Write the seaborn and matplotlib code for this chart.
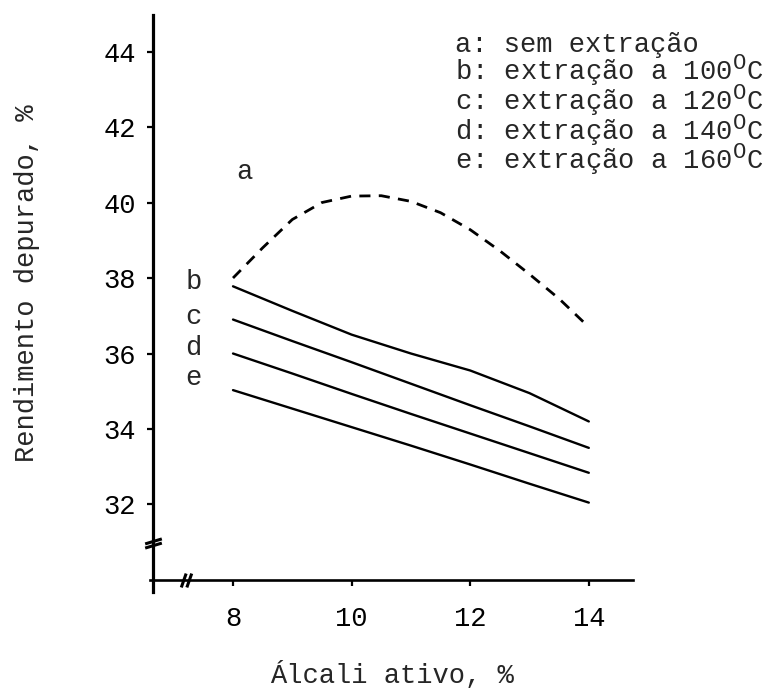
import numpy as np
import pandas as pd
import matplotlib
matplotlib.use("Agg")
import matplotlib.pyplot as plt
import matplotlib._mathtext as _mt
from matplotlib.path import Path
import seaborn as sns

# Álcali ativo (%) at which each curve was read
alcali_a = [8, 8.5, 9, 9.5, 10, 10.5, 11, 11.5, 12, 12.5, 13, 13.5, 14]
alcali = [8, 9, 10, 11, 12, 13, 14]

# Rendimento depurado (%) for each condition
rend_a = [38.0, 38.8, 39.55, 40.0, 40.17, 40.18, 40.03, 39.73, 39.28, 38.72, 38.1, 37.45, 36.7]
rend_b = [37.78, 37.13, 36.5, 36.0, 35.55, 34.95, 34.2]
rend_c = [36.9, 36.33, 35.77, 35.2, 34.63, 34.07, 33.5]
rend_d = [36.0, 35.47, 34.93, 34.4, 33.88, 33.36, 32.84]
rend_e = [35.03, 34.54, 34.05, 33.56, 33.06, 32.55, 32.05]

curve_names = ["a", "b", "c", "d", "e"]
legend_lines = [
    "a: sem extração",
    "b: extração a 100$^{\\mathrm{O}}$C",
    "c: extração a 120$^{\\mathrm{O}}$C",
    "d: extração a 140$^{\\mathrm{O}}$C",
    "e: extração a 160$^{\\mathrm{O}}$C",
]
y_ticks = [32, 34, 36, 38, 40, 42, 44]
x_ticks = [8, 10, 12, 14]

sns.set_style("white")
plt.rcParams["font.family"] = ["Liberation Mono", "DejaVu Sans"]
plt.rcParams["mathtext.fontset"] = "custom"
plt.rcParams["mathtext.rm"] = "Liberation Mono"
plt.rcParams["mathtext.it"] = "Liberation Mono"
plt.rcParams["mathtext.bf"] = "Liberation Mono"
# a larger raised "O" for the degree sign
_mt.SHRINK_FACTOR = 0.82

FS = 19.5
LINE_PX = 29.3       # baseline-to-baseline distance in the key
FIRST_BASE_PX = 52   # baseline of the first key line, from the top

fig = plt.figure(figsize=(7.75, 6.98), dpi=100)
ax = fig.add_axes([100 / 775, 98 / 698, 600 / 775, 590 / 698])
ax.set_xlim(5.757, 15.875)
ax.set_ylim(29.47, 45.10)

# curves
sns.lineplot(x=alcali_a, y=rend_a, ax=ax, color="black", lw=2.0,
             linestyle=(0, (4, 3)), estimator=None, sort=False)
for vals in [rend_b, rend_c, rend_d, rend_e]:
    sns.lineplot(x=alcali, y=vals, ax=ax, color="black", lw=1.7,
                 estimator=None, sort=False)

# curve letters
ax.text(8.2, 40.81, "a", fontsize=FS, ha="center", va="center")
label_y = [37.9, 36.97, 36.15, 35.36]
for name, yv in zip(curve_names[1:], label_y):
    ax.text(7.33, yv, name, fontsize=FS, ha="center", va="center")

# key in the upper right, one multi-line text
key = fig.text(455 / 775, 0.9, "\n".join(legend_lines), fontsize=FS,
               ha="left", va="top", multialignment="left")
r = fig.canvas.get_renderer()
prop = key.get_fontproperties()
_, lp_h, lp_d = r.get_text_width_height_descent("lp", prop, ismath=False)
_, h_a, d_a = r.get_text_width_height_descent(legend_lines[0], prop, ismath=False)
_, h_b, d_b = r.get_text_width_height_descent(legend_lines[1], prop, ismath=True)
h_a, d_a = max(h_a, lp_h), max(d_a, lp_d)
h_b, d_b = max(h_b, lp_h), max(d_b, lp_d)
mean_d = (d_a + 3 * d_b) / 4
key.set_linespacing((LINE_PX - mean_d) / max(h_b - d_b, lp_h - lp_d))
top_px = FIRST_BASE_PX - (h_a - d_a)
key.set_y((698 - top_px) / 698)

# axes
for side in ["top", "right"]:
    ax.spines[side].set_visible(False)
ax.spines["left"].set_position(("data", 6.651))
ax.spines["left"].set_bounds(29.68, 44.97)
ax.spines["left"].set_linewidth(2.3)
ax.spines["bottom"].set_position(("data", 30.0))
ax.spines["bottom"].set_bounds(6.60, 14.75)
ax.spines["bottom"].set_linewidth(1.9)
for s in ["left", "bottom"]:
    ax.spines[s].set_color("black")

ax.set_yticks(y_ticks)
ax.set_yticklabels([str(v) for v in y_ticks])
ax.set_xticks(x_ticks)
ax.set_xticklabels([str(v) for v in x_ticks])
ax.tick_params(axis="y", direction="out", length=4.5, width=1.6, pad=8,
               labelsize=FS, colors="black", left=True)
ax.tick_params(axis="x", direction="out", length=4.5, width=1.6, pad=14,
               labelsize=FS, colors="black", bottom=True)

# axis breaks
ybreak = Path([(-1, -0.05), (1, 0.55), (-1, -0.55), (1, 0.05)],
              [Path.MOVETO, Path.LINETO, Path.MOVETO, Path.LINETO])
xbreak = Path([(-0.75, -1), (-0.05, 1), (0.05, -1), (0.75, 1)],
              [Path.MOVETO, Path.LINETO, Path.MOVETO, Path.LINETO])
ax.plot([6.651], [30.98], marker=ybreak, ms=12, mec="black", mew=2.2,
        ls="none", clip_on=False)
ax.plot([7.21], [30.0], marker=xbreak, ms=10, mec="black", mew=2.2,
        ls="none", clip_on=False)

ax.set_ylabel("Rendimento depurado, %", fontsize=FS, va="center", ha="center")
ax.yaxis.set_label_coords(-0.1217, 0.537)
ax.set_xlabel("Álcali ativo, %", fontsize=FS, va="center", ha="center")
ax.xaxis.set_label_coords(0.4867, -0.127)

fig.savefig("out.png", dpi=100)
